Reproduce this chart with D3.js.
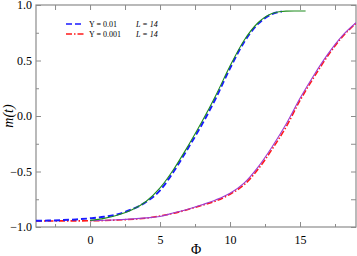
<!DOCTYPE html>
<html>
<head>
<meta charset="UTF-8" />
<script src="https://d3js.org/d3.v7.min.js"></script>
<style>
  body { margin: 0; background: #fff; }
</style>
</head>
<body>
<svg id="chart" width="357" height="256"></svg>
<script>
// data
const phiBlue = [-3.86, -3, -2, -1, 0, 1, 2, 3, 4, 5, 6, 7, 8, 9, 10, 11, 12, 13, 13.7]
const mBlue   = [-0.944, -0.942, -0.938, -0.932, -0.922, -0.908, -0.884, -0.84, -0.775, -0.67, -0.495, -0.29, -0.075, 0.165, 0.43, 0.665, 0.83, 0.918, 0.942]
const phiGreen = [0, 1, 2, 3, 4, 5, 6, 7, 8, 9, 10, 11, 12, 13, 14, 15.4]
const mGreen   = [-0.94, -0.922, -0.892, -0.845, -0.77, -0.648, -0.475, -0.27, -0.05, 0.19, 0.45, 0.68, 0.84, 0.924, 0.945, 0.946]
const phiRed = [-3.86, -2, 0, 2, 4, 6, 8, 9, 10, 11, 12, 13, 14, 15, 16, 17, 18, 19]
const mRed   = [-0.946, -0.945, -0.944, -0.937, -0.92, -0.875, -0.805, -0.765, -0.705, -0.62, -0.48, -0.30, -0.10, 0.14, 0.35, 0.545, 0.71, 0.835]
const phiPurple = [0, 2, 4, 5, 6, 7, 8, 9, 10, 11, 12, 13, 14, 15, 16, 17, 18, 19]
const mPurple   = [-0.943, -0.935, -0.918, -0.905, -0.872, -0.84, -0.80, -0.755, -0.696, -0.605, -0.46, -0.279, -0.075, 0.159, 0.37, 0.56, 0.72, 0.84]

const legendLabels = ["\u03A5 = 0.01", "\u03A5 = 0.001"]
const legendL = ["L = 14", "L = 14"]
const xTickVals = [0, 5, 10, 15]
const yTickVals = [-1, -0.5, 0, 0.5, 1]

const serif = "'Liberation Serif', 'DejaVu Serif', serif"
const margin = {left: 36, right: 1, top: 5, bottom: 29}
const W = 357, H = 256
const svg = d3.select("#chart")

const x = d3.scaleLinear().domain([-3.86, 19]).range([margin.left, W - margin.right])
const y = d3.scaleLinear().domain([-1, 1]).range([H - margin.bottom, margin.top])

const axisGray = "#8c8c8c"

// minor ticks every 2.5 / 0.25
const xMinor = d3.range(-2.5, 19, 2.5).filter(v => !xTickVals.includes(v))
const yMinor = d3.range(-0.75, 1, 0.5)

function styleAxis(g) {
  g.attr("font-family", serif).attr("font-size", 12)
  g.select(".domain").remove()
  g.selectAll(".tick line").attr("stroke", axisGray)
  g.selectAll(".tick text").attr("fill", "#000")
}

svg.append("g").attr("transform", `translate(0,${y(-1)})`)
  .call(d3.axisBottom(x).tickValues(xTickVals).tickSize(-5).tickPadding(8).tickFormat(d3.format("d")))
  .call(styleAxis)
svg.append("g").attr("transform", `translate(0,${y(-1)})`)
  .call(d3.axisBottom(x).tickValues(xMinor).tickSize(-3).tickFormat(""))
  .call(styleAxis)
svg.append("g").attr("transform", `translate(0,${y(1)})`)
  .call(d3.axisTop(x).tickValues(xTickVals.concat(xMinor)).tickSize(-5).tickFormat(""))
  .call(styleAxis)

svg.append("g").attr("transform", `translate(${x(-3.86)},0)`)
  .call(d3.axisLeft(y).tickValues(yTickVals).tickSize(-5).tickPadding(4).tickFormat(d => d3.format(".1f")(d).replace("-", "\u2212")))
  .call(styleAxis)
svg.append("g").attr("transform", `translate(${x(-3.86)},0)`)
  .call(d3.axisLeft(y).tickValues(yMinor).tickSize(-3).tickFormat(""))
  .call(styleAxis)
svg.append("g").attr("transform", `translate(${x(19)},0)`)
  .call(d3.axisRight(y).tickValues(yTickVals.concat(yMinor)).tickSize(-5).tickFormat(""))
  .call(styleAxis)

// frame
svg.append("rect")
  .attr("x", x(-3.86)).attr("y", y(1))
  .attr("width", x(19) - x(-3.86)).attr("height", y(-1) - y(1))
  .attr("fill", "none").attr("stroke", axisGray).attr("stroke-width", 1.2)

svg.append("clipPath").attr("id", "clip").append("rect")
  .attr("x", x(-3.86)).attr("y", y(1) - 2)
  .attr("width", x(19) - x(-3.86)).attr("height", y(-1) - y(1) + 4)

const line = d3.line().x(d => x(d[0])).y(d => y(d[1])).curve(d3.curveMonotoneX)
const plot = svg.append("g").attr("clip-path", "url(#clip)")

const series = [
  {px: phiRed, py: mRed, color: "#ff1a1a", w: 1.6, dash: "6,2,1.5,2"},
  {px: phiPurple, py: mPurple, color: "#a03cd0", w: 1.1, dash: null},
  {px: phiBlue, py: mBlue, color: "#1a1aff", w: 2, dash: "6,3"},
  {px: phiGreen, py: mGreen, color: "#1e8c1e", w: 1.1, dash: null}
]
series.forEach(s => {
  plot.append("path")
    .datum(d3.zip(s.px, s.py))
    .attr("d", line)
    .attr("fill", "none")
    .attr("stroke", s.color)
    .attr("stroke-width", s.w)
    .attr("stroke-dasharray", s.dash)
})

// legend
const legColors = ["#1a1aff", "#ff1a1a"]
const legDash = ["6,3", "6,2,1.5,2"]
legendLabels.forEach((lab, i) => {
  const ly = 24 + i * 10
  svg.append("line").attr("x1", 66).attr("x2", 84).attr("y1", ly).attr("y2", ly)
    .attr("stroke", legColors[i]).attr("stroke-width", 1.6).attr("stroke-dasharray", legDash[i])
  svg.append("text").attr("x", 89).attr("y", ly + 3)
    .attr("font-family", serif).attr("font-size", 8).text(lab)
  svg.append("text").attr("x", 136).attr("y", ly + 3)
    .attr("font-family", serif).attr("font-size", 8).attr("font-style", "italic").text(legendL[i])
})

// axis titles
svg.append("text")
  .attr("transform", `translate(13,${(y(1) + y(-1)) / 2}) rotate(-90)`)
  .attr("text-anchor", "middle")
  .attr("font-family", serif).attr("font-size", 14).attr("font-style", "italic")
  .text("m(t)")
svg.append("text")
  .attr("x", (x(-3.86) + x(19)) / 2).attr("y", 254)
  .attr("text-anchor", "middle")
  .attr("font-family", serif).attr("font-size", 14)
  .text("\u03A6")
</script>
</body>
</html>
